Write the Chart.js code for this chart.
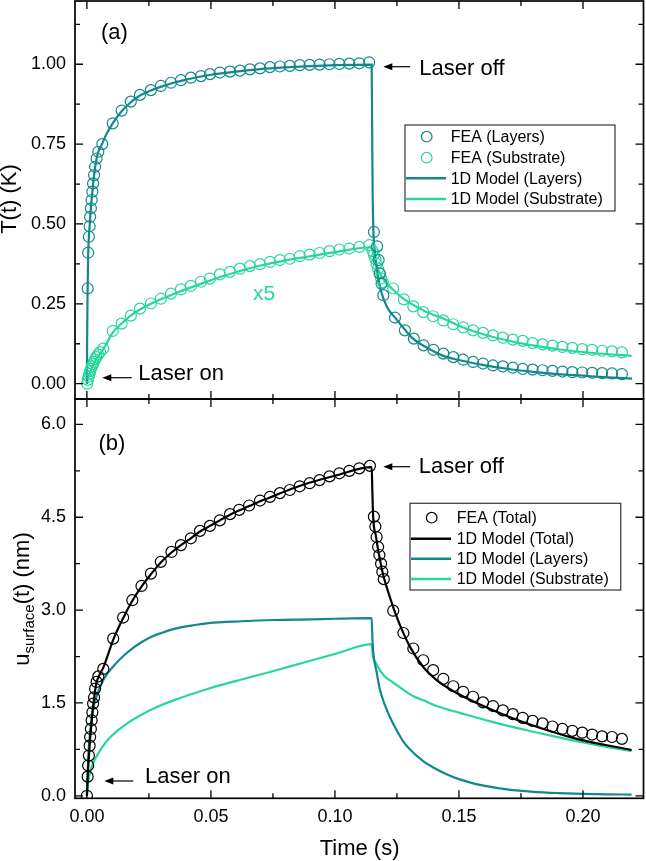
<!DOCTYPE html>
<html>
<head>
<meta charset="utf-8">
<script src="https://cdn.jsdelivr.net/npm/chart.js@4.4.0/dist/chart.umd.min.js"></script>
<style>
html, body { margin: 0; padding: 0; background: #fff; }
#wrap { position: relative; width: 646px; height: 861px; }
canvas { position: absolute; left: 0; top: 0; }
</style>
</head>
<body>
<div id="wrap">
  <canvas id="panelA" width="646" height="861"></canvas>
  <canvas id="panelB" width="646" height="861"></canvas>
</div>
<script>
// ---- panel (a): temperature ----
const feaLayTime = [0.0003, 0.0005, 0.0008, 0.0011, 0.0013, 0.0016, 0.0019, 0.0022, 0.0025, 0.0029, 0.0033, 0.0039, 0.0046, 0.0062,
  0.0104, 0.014, 0.0177, 0.0214, 0.0258, 0.0298, 0.0339, 0.0379, 0.0419, 0.046, 0.0496, 0.0536, 0.0577, 0.0617, 0.0657, 0.0698, 0.0738,
  0.0778, 0.0818, 0.0858, 0.0898, 0.0938, 0.0978, 0.1018, 0.1058, 0.1098, 0.1138,
  0.1157, 0.117, 0.1176, 0.1181, 0.1188, 0.1195, 0.1242, 0.1282, 0.1318, 0.1357, 0.1397, 0.1437, 0.1477, 0.1517, 0.1557, 0.1597,
  0.1637, 0.1677, 0.1717, 0.1757, 0.1797, 0.1837, 0.1877, 0.1917, 0.1957, 0.1997, 0.2037, 0.2077, 0.2117, 0.2157];
const feaLayT = [0.298, 0.41, 0.46, 0.493, 0.522, 0.549, 0.575, 0.601, 0.627, 0.653, 0.679, 0.705, 0.726, 0.750,
  0.815, 0.855, 0.883, 0.904, 0.919, 0.932, 0.942, 0.950, 0.958, 0.963, 0.969, 0.974, 0.977, 0.980, 0.984, 0.987, 0.991,
  0.993, 0.995, 0.997, 0.998, 0.999, 1.0, 1.001, 1.002, 1.003, 1.006,
  0.475, 0.43, 0.387, 0.345, 0.313, 0.277, 0.207, 0.167, 0.141, 0.12, 0.106, 0.094, 0.083, 0.075, 0.068, 0.063,
  0.057, 0.054, 0.050, 0.046, 0.044, 0.042, 0.040, 0.038, 0.036, 0.035, 0.034, 0.033, 0.032, 0.030];

const feaSubTime = [0.0001, 0.0004, 0.0007, 0.001, 0.0013, 0.0016, 0.002, 0.0024, 0.0028, 0.0033, 0.0038, 0.0045, 0.0053, 0.0066,
  0.0104, 0.014, 0.0177, 0.0214, 0.0258, 0.0298, 0.0339, 0.0379, 0.0419, 0.046, 0.0496, 0.0536, 0.0577, 0.0617, 0.0657, 0.0698, 0.0738,
  0.0778, 0.0818, 0.0858, 0.0898, 0.0938, 0.0978, 0.1018, 0.1058, 0.1098, 0.1138,
  0.1152, 0.1157, 0.1163, 0.1168, 0.1174, 0.118, 0.1186, 0.1193, 0.1235, 0.1278, 0.1316, 0.1356, 0.1396, 0.1437, 0.1477, 0.1517,
  0.1557, 0.1597, 0.1637, 0.1677, 0.1717, 0.1757, 0.1797, 0.1837, 0.1877, 0.1917, 0.1957, 0.1997, 0.2037, 0.2077, 0.2117, 0.2157];
const feaSubT = [0.0, 0.012, 0.022, 0.031, 0.039, 0.046, 0.054, 0.061, 0.068, 0.076, 0.083, 0.091, 0.099, 0.11,
  0.165, 0.188, 0.213, 0.235, 0.251, 0.266, 0.282, 0.295, 0.306, 0.319, 0.329, 0.342, 0.350, 0.360, 0.368, 0.374, 0.381,
  0.387, 0.391, 0.399, 0.404, 0.409, 0.415, 0.420, 0.423, 0.428, 0.434,
  0.415, 0.405, 0.39, 0.375, 0.36, 0.345, 0.33, 0.318, 0.298, 0.264, 0.242, 0.224, 0.211, 0.198, 0.186, 0.176,
  0.167, 0.159, 0.151, 0.144, 0.138, 0.134, 0.127, 0.123, 0.119, 0.115, 0.112, 0.108, 0.106, 0.103, 0.101, 0.098];

const modLayTime = [0, 0.0001, 0.0003, 0.0005, 0.0008, 0.0011, 0.0016, 0.0022, 0.0029, 0.0039, 0.0046, 0.0062, 0.008, 0.0104,
  0.014, 0.0177, 0.0214, 0.0258, 0.03, 0.035, 0.04, 0.045, 0.05, 0.055, 0.06, 0.07, 0.08, 0.09, 0.1, 0.1148,
  0.115, 0.1152, 0.1155, 0.116, 0.1166, 0.1173, 0.1184, 0.121, 0.1244, 0.129, 0.1316, 0.137, 0.1437, 0.15,
  0.16, 0.17, 0.18, 0.19, 0.2, 0.21, 0.2198];
const modLayT = [0, 0.15, 0.30, 0.40, 0.46, 0.493, 0.549, 0.601, 0.653, 0.705, 0.726, 0.752, 0.783, 0.815,
  0.853, 0.881, 0.902, 0.918, 0.93, 0.942, 0.952, 0.96, 0.967, 0.972, 0.977, 0.985, 0.99, 0.994, 0.997, 0.999,
  0.8, 0.6, 0.48, 0.42, 0.375, 0.34, 0.295, 0.24, 0.205, 0.162, 0.14, 0.113, 0.087, 0.074,
  0.058, 0.046, 0.037, 0.03, 0.025, 0.02, 0.016];

const modSubTime = [0, 0.0005, 0.001, 0.002, 0.003, 0.0045, 0.0066, 0.0104, 0.0137, 0.0173, 0.0214, 0.0258, 0.03, 0.035,
  0.04, 0.045, 0.05, 0.055, 0.06, 0.065, 0.07, 0.075, 0.08, 0.09, 0.1, 0.1146, 0.116, 0.1175, 0.1208, 0.1222,
  0.1276, 0.137, 0.1437, 0.1504, 0.1638, 0.1773, 0.1907, 0.2042, 0.2196];
const modSubT = [0, 0.018, 0.03, 0.05, 0.066, 0.085, 0.108, 0.16, 0.186, 0.211, 0.232, 0.25, 0.265, 0.281,
  0.296, 0.31, 0.324, 0.337, 0.349, 0.36, 0.37, 0.378, 0.386, 0.399, 0.412, 0.427, 0.39, 0.355, 0.313, 0.303,
  0.266, 0.224, 0.204, 0.18, 0.146, 0.123, 0.107, 0.096, 0.087];

// ---- panel (b): surface displacement ----
const feaTotTime = [0.0, 0.0003, 0.0005, 0.0008, 0.0011, 0.0013, 0.0016, 0.0019, 0.0022, 0.0025, 0.0029, 0.0033, 0.0039, 0.0046, 0.0066,
  0.0106, 0.0146, 0.0183, 0.022, 0.0258, 0.0298, 0.0341, 0.0379, 0.0419, 0.0456, 0.0496, 0.0536, 0.0577, 0.0614, 0.0654, 0.0698, 0.0738,
  0.0778, 0.0818, 0.0858, 0.0898, 0.0938, 0.0978, 0.1018, 0.1058, 0.1098, 0.1141,
  0.1157, 0.1163, 0.1168, 0.1174, 0.1179, 0.1186, 0.1191, 0.1197, 0.1235, 0.1276, 0.1316, 0.1356, 0.1396, 0.1437, 0.1477, 0.1517,
  0.1557, 0.1597, 0.1637, 0.1677, 0.1717, 0.1757, 0.1797, 0.1837, 0.1877, 0.1917, 0.1957, 0.1997, 0.2037, 0.2077, 0.2117, 0.2157];
const feaTotU = [0.0, 0.31, 0.49, 0.65, 0.81, 0.95, 1.08, 1.22, 1.35, 1.49, 1.59, 1.73, 1.84, 1.93, 2.05,
  2.54, 2.88, 3.16, 3.39, 3.59, 3.78, 3.94, 4.05, 4.16, 4.28, 4.36, 4.45, 4.55, 4.62, 4.69, 4.77, 4.83,
  4.89, 4.94, 5.0, 5.05, 5.10, 5.16, 5.21, 5.25, 5.29, 5.33,
  4.51, 4.35, 4.18, 4.02, 3.89, 3.75, 3.62, 3.50, 2.99, 2.63, 2.38, 2.19, 2.03, 1.89, 1.77, 1.68,
  1.60, 1.51, 1.45, 1.38, 1.32, 1.26, 1.21, 1.17, 1.12, 1.08, 1.05, 1.02, 0.99, 0.96, 0.95, 0.92];

const modTotTime = [0, 0.0003, 0.0008, 0.0013, 0.0019, 0.0025, 0.0033, 0.0039, 0.005, 0.0066, 0.0106, 0.0146, 0.0183, 0.022,
  0.0258, 0.0298, 0.0341, 0.0379, 0.0419, 0.0456, 0.0496, 0.0536, 0.0577, 0.0614, 0.0654, 0.0698, 0.0738, 0.08, 0.09, 0.1,
  0.1148, 0.1151, 0.1154, 0.1165, 0.1181, 0.1195, 0.1208, 0.1249, 0.1302, 0.1356, 0.141, 0.1491, 0.1571, 0.1706, 0.1841, 0.1975, 0.2196];
const modTotU = [0, 0.3, 0.63, 0.93, 1.2, 1.45, 1.7, 1.83, 1.95, 2.07, 2.52, 2.87, 3.15, 3.38,
  3.58, 3.77, 3.93, 4.05, 4.16, 4.27, 4.36, 4.45, 4.54, 4.61, 4.68, 4.76, 4.82, 4.92, 5.06, 5.17,
  5.31, 4.9, 4.51, 4.2, 3.82, 3.56, 3.38, 2.89, 2.41, 2.08, 1.87, 1.66, 1.5, 1.27, 1.08, 0.92, 0.74];

const modLayUTime = [0, 0.0005, 0.001, 0.0015, 0.0025, 0.004, 0.006, 0.008, 0.0113, 0.015, 0.018, 0.022, 0.026, 0.03,
  0.0355, 0.042, 0.049, 0.0624, 0.0758, 0.09, 0.1, 0.1148, 0.1151, 0.1155, 0.1168, 0.1181, 0.12, 0.1222, 0.125, 0.1275,
  0.13, 0.1356, 0.14, 0.145, 0.15, 0.155, 0.16, 0.17, 0.18, 0.19, 0.2, 0.21, 0.2196];
const modLayU = [0, 0.6, 0.9, 1.1, 1.4, 1.62, 1.82, 1.96, 2.12, 2.27, 2.37, 2.48, 2.57, 2.63,
  2.7, 2.75, 2.79, 2.82, 2.84, 2.85, 2.86, 2.87, 2.55, 2.3, 2.0, 1.72, 1.48, 1.27, 1.05, 0.88,
  0.76, 0.56, 0.45, 0.35, 0.27, 0.21, 0.165, 0.1, 0.065, 0.045, 0.032, 0.024, 0.02];

const modSubUTime = [0, 0.0005, 0.001, 0.0019, 0.003, 0.0059, 0.009, 0.0126, 0.017, 0.022, 0.028, 0.0355, 0.042, 0.0489,
  0.0624, 0.0738, 0.0872, 0.1007, 0.1148, 0.1153, 0.1165, 0.1181, 0.12, 0.1235, 0.128, 0.1316, 0.137, 0.141,
  0.1504, 0.1638, 0.1773, 0.1907, 0.2042, 0.2196];
const modSubU = [0, 0.22, 0.33, 0.47, 0.57, 0.77, 0.93, 1.06, 1.19, 1.31, 1.43, 1.55, 1.64, 1.73,
  1.88, 2.0, 2.15, 2.3, 2.45, 2.25, 2.15, 2.03, 1.93, 1.83, 1.7, 1.61, 1.52, 1.45,
  1.34, 1.19, 1.06, 0.94, 0.83, 0.72];

// ticks
const xMajor = [0, 0.05, 0.10, 0.15, 0.20];
const xMinor = [0.025, 0.075, 0.125, 0.175];
const yMajorA = [0, 0.25, 0.5, 0.75, 1.0];
const yMinorA = [0.125, 0.375, 0.625, 0.875, 1.125];
const yMajorB = [0, 1.5, 3.0, 4.5, 6.0];
const yMinorB = [0.75, 2.25, 3.75, 5.25];

const TEAL = '#13888b';
const GREEN = '#27d69c';
const FONT = '"Liberation Sans", Arial, sans-serif';

const pts = (xs, ys) => xs.map((x, i) => ({ x: x, y: ys[i] }));

function circles(label, xs, ys, color) {
  return { label: label, data: pts(xs, ys), showLine: false, pointRadius: 5.5, pointBorderWidth: 1.2,
    pointBorderColor: color, pointBackgroundColor: 'rgba(0,0,0,0)', borderColor: color };
}
function curve(label, xs, ys, color) {
  return { label: label, data: pts(xs, ys), pointRadius: 0, borderWidth: 2.2, borderColor: color,
    cubicInterpolationMode: 'monotone', fill: false };
}

function drawFrame(chart, yMaj, yMin) {
  const { ctx, chartArea: a, scales: { x, y } } = chart;
  ctx.save();
  ctx.strokeStyle = '#000';
  ctx.lineWidth = 1.3;
  ctx.beginPath();
  const tick = (v, len, horiz) => {
    if (horiz) {
      const px = x.getPixelForValue(v);
      ctx.moveTo(px, a.top); ctx.lineTo(px, a.top + len);
      ctx.moveTo(px, a.bottom); ctx.lineTo(px, a.bottom - len);
    } else {
      const py = y.getPixelForValue(v);
      ctx.moveTo(a.left, py); ctx.lineTo(a.left + len, py);
      ctx.moveTo(a.right, py); ctx.lineTo(a.right - len, py);
    }
  };
  xMajor.forEach(v => tick(v, 8, true));
  xMinor.forEach(v => tick(v, 5, true));
  yMaj.forEach(v => tick(v, 8, false));
  yMin.forEach(v => tick(v, 5, false));
  ctx.stroke();
  ctx.lineWidth = 1.7;
  ctx.strokeRect(a.left, a.top, a.right - a.left, a.bottom - a.top);
  ctx.restore();
}

function arrow(ctx, xHead, xTail, yy) {
  ctx.save();
  ctx.strokeStyle = '#000'; ctx.fillStyle = '#000'; ctx.lineWidth = 1.2;
  ctx.beginPath(); ctx.moveTo(xHead + 6, yy); ctx.lineTo(xTail, yy); ctx.stroke();
  ctx.beginPath(); ctx.moveTo(xHead, yy); ctx.lineTo(xHead + 9, yy - 3.5); ctx.lineTo(xHead + 9, yy + 3.5); ctx.closePath(); ctx.fill();
  ctx.restore();
}

function text(ctx, s, x, y, size, color) {
  ctx.save();
  ctx.font = size + 'px ' + FONT;
  ctx.fillStyle = color || '#000';
  ctx.textBaseline = 'alphabetic';
  ctx.fillText(s, x, y);
  ctx.restore();
}

function legendBox(ctx, box, items) {
  ctx.save();
  ctx.fillStyle = '#fff';
  ctx.fillRect(box.l, box.t, box.r - box.l, box.b - box.t);
  ctx.strokeStyle = '#444'; ctx.lineWidth = 1.3;
  ctx.strokeRect(box.l, box.t, box.r - box.l, box.b - box.t);
  ctx.font = '16px ' + FONT;
  ctx.textBaseline = 'middle';
  items.forEach((it, i) => {
    const yy = box.rows[i];
    if (it.kind === 'circle') {
      ctx.strokeStyle = it.color; ctx.lineWidth = 1.2;
      ctx.beginPath(); ctx.arc(box.mark, yy, 5.3, 0, Math.PI * 2); ctx.stroke();
    } else {
      ctx.strokeStyle = it.color; ctx.lineWidth = 2.4;
      ctx.beginPath(); ctx.moveTo(box.l + 1, yy); ctx.lineTo(box.lineEnd, yy); ctx.stroke();
    }
    ctx.fillStyle = '#000';
    ctx.fillText(it.label, box.textX, yy + 1);
  });
  ctx.restore();
}

const decorA = {
  id: 'decorA',
  afterDraw(chart) {
    const ctx = chart.ctx;
    drawFrame(chart, yMajorA, yMinorA);
    legendBox(ctx, { l: 405, r: 615, t: 125, b: 211, rows: [136.7, 157.7, 178.3, 199], mark: 426.7, lineEnd: 446, textX: 450.7 }, [
      { kind: 'circle', color: TEAL, label: 'FEA (Layers)' },
      { kind: 'circle', color: GREEN, label: 'FEA (Substrate)' },
      { kind: 'line', color: TEAL, label: '1D Model (Layers)' },
      { kind: 'line', color: GREEN, label: '1D Model (Substrate)' }
    ]);
    text(ctx, '(a)', 101, 39, 22);
    text(ctx, 'x5', 253, 300, 21, GREEN);
    arrow(ctx, 383.3, 410, 66.7);
    text(ctx, 'Laser off', 419.3, 75, 22);
    arrow(ctx, 102.3, 131.7, 377.7);
    text(ctx, 'Laser on', 138.3, 380, 22);
    // y title
    ctx.save();
    ctx.translate(16, 199);
    ctx.rotate(-Math.PI / 2);
    ctx.font = '22px ' + FONT;
    ctx.fillStyle = '#000';
    ctx.textAlign = 'center';
    ctx.fillText('T(t) (K)', 0, 0);
    ctx.restore();
  }
};

const decorB = {
  id: 'decorB',
  afterDraw(chart) {
    const ctx = chart.ctx;
    drawFrame(chart, yMajorB, yMinorB);
    legendBox(ctx, { l: 410, r: 620.7, t: 503.3, b: 590, rows: [517.7, 538.7, 558.7, 579], mark: 431.7, lineEnd: 451, textX: 456.7 }, [
      { kind: 'circle', color: '#000', label: 'FEA (Total)' },
      { kind: 'line', color: '#000', label: '1D Model (Total)' },
      { kind: 'line', color: TEAL, label: '1D Model (Layers)' },
      { kind: 'line', color: GREEN, label: '1D Model (Substrate)' }
    ]);
    text(ctx, '(b)', 98.5, 450, 22);
    arrow(ctx, 383.3, 410, 466.7);
    text(ctx, 'Laser off', 418.7, 473, 22);
    arrow(ctx, 104.3, 133.3, 781);
    text(ctx, 'Laser on', 145, 783.3, 22);
    // x title
    ctx.save();
    ctx.font = '22px ' + FONT;
    ctx.fillStyle = '#000';
    ctx.textAlign = 'center';
    ctx.fillText('Time (s)', 359.6, 855);
    ctx.restore();
    // y title with subscript
    ctx.save();
    ctx.translate(29, 599);
    ctx.rotate(-Math.PI / 2);
    ctx.fillStyle = '#000';
    ctx.font = '22px ' + FONT;
    const w1 = ctx.measureText('u').width;
    const w3 = ctx.measureText('(t) (nm)').width;
    ctx.font = '15px ' + FONT;
    const w2 = ctx.measureText('surface').width;
    let cx = -(w1 + w2 + w3) / 2;
    ctx.font = '22px ' + FONT;
    ctx.fillText('u', cx, 0); cx += w1;
    ctx.font = '15px ' + FONT;
    ctx.fillText('surface', cx, 5); cx += w2;
    ctx.font = '22px ' + FONT;
    ctx.fillText('(t) (nm)', cx, 0);
    ctx.restore();
  }
};

const tickFont = { family: FONT, size: 18 };
const noPad = s => { s.paddingTop = 0; s.paddingBottom = 0; s.paddingLeft = 0; s.paddingRight = 0; };

new Chart(document.getElementById('panelA'), {
  type: 'line',
  data: {
    datasets: [
      circles('FEA (Layers)', feaLayTime, feaLayT, TEAL),
      circles('FEA (Substrate)', feaSubTime, feaSubT, GREEN),
      curve('1D Model (Layers)', modLayTime, modLayT, TEAL),
      curve('1D Model (Substrate)', modSubTime, modSubT, GREEN)
    ]
  },
  options: {
    responsive: false,
    animation: false,
    events: [],
    layout: { autoPadding: false, padding: { left: 0, right: 2.5, top: 1, bottom: 462 } },
    plugins: { legend: { display: false }, tooltip: { enabled: false } },
    scales: {
      x: {
        type: 'linear', min: -0.0048, max: 0.2244,
        grid: { display: false, drawTicks: false }, border: { display: false },
        ticks: { display: false },
        afterFit: s => { s.height = 0; noPad(s); }
      },
      y: {
        min: -0.048, max: 1.198,
        grid: { display: false, drawTicks: false }, border: { display: false },
        ticks: { padding: 9, font: tickFont, color: '#000', callback: v => v.toFixed(2) },
        afterBuildTicks: s => { s.ticks = yMajorA.map(v => ({ value: v })); },
        afterFit: s => { s.width = 75; noPad(s); }
      }
    }
  },
  plugins: [decorA]
});

new Chart(document.getElementById('panelB'), {
  type: 'line',
  data: {
    datasets: [
      circles('FEA (Total)', feaTotTime, feaTotU, '#000'),
      curve('1D Model (Total)', modTotTime, modTotU, '#000'),
      curve('1D Model (Layers)', modLayUTime, modLayU, TEAL),
      curve('1D Model (Substrate)', modSubUTime, modSubU, GREEN)
    ]
  },
  options: {
    responsive: false,
    animation: false,
    events: [],
    layout: { autoPadding: false, padding: { left: 0, right: 2.5, top: 399, bottom: 0 } },
    plugins: { legend: { display: false }, tooltip: { enabled: false } },
    scales: {
      x: {
        type: 'linear', min: -0.0048, max: 0.2244,
        grid: { display: false, drawTicks: false }, border: { display: false },
        ticks: { padding: 8, font: tickFont, color: '#000', maxRotation: 0, callback: v => v.toFixed(2) },
        afterBuildTicks: s => { s.ticks = xMajor.map(v => ({ value: v })); },
        afterFit: s => { s.height = 62.7; noPad(s); }
      },
      y: {
        min: -0.04, max: 6.41,
        grid: { display: false, drawTicks: false }, border: { display: false },
        ticks: { padding: 9, font: tickFont, color: '#000', callback: v => v.toFixed(1) },
        afterBuildTicks: s => { s.ticks = yMajorB.map(v => ({ value: v })); },
        afterFit: s => { s.width = 75; noPad(s); }
      }
    }
  },
  plugins: [decorB]
});
</script>
</body>
</html>
